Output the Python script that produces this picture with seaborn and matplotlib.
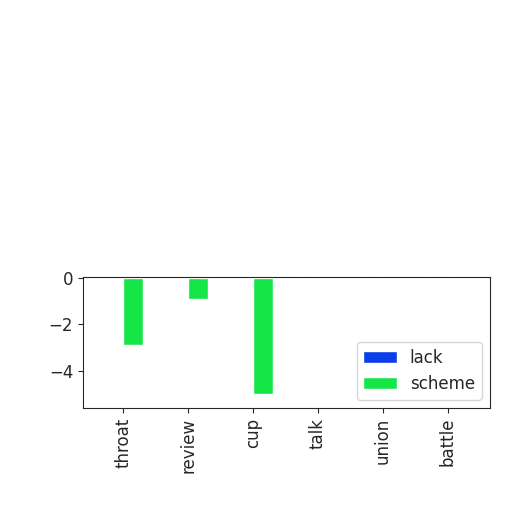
import pandas as pd
import matplotlib
matplotlib.use("Agg")
import matplotlib.pyplot as plt
import seaborn as sns

sns.set_style("ticks")

# ---------------------------------
# DATA
# ---------------------------------

categories = ["throat", "review", "cup", "talk", "union", "battle"]
lack = [0.0, 0.0, 0.0, 0.03, 0.03, 0.03]
scheme = [-2.9, -0.9, -5.0, -0.01, -0.01, -0.01]

df = pd.DataFrame({
    "category": categories * 2,
    "value": lack + scheme,
    "series": ["lack"] * len(categories) + ["scheme"] * len(categories),
})

# ---------------------------------
# PLOT
# ---------------------------------

fig = plt.figure(figsize=(5.12, 5.12), dpi=100)
ax = fig.add_axes([0.162, 0.203, 0.795, 0.256])

sns.barplot(
    data=df,
    x="category",
    y="value",
    hue="series",
    palette=["#0b3de8", "#16e548"],
    saturation=1,
    width=0.6,
    ax=ax,
)

ax.set_xlim(-0.62, 5.65)
ax.set_ylim(-5.62, 0.05)
ax.set_yticks([0, -2, -4])
ax.set_xlabel("")
ax.set_ylabel("")
ax.tick_params(axis="x", labelrotation=90, labelsize=12)
ax.tick_params(axis="y", labelsize=12)

ax.legend(loc="lower right", fontsize=12, title=None)

fig.savefig("out.png", dpi=100)
